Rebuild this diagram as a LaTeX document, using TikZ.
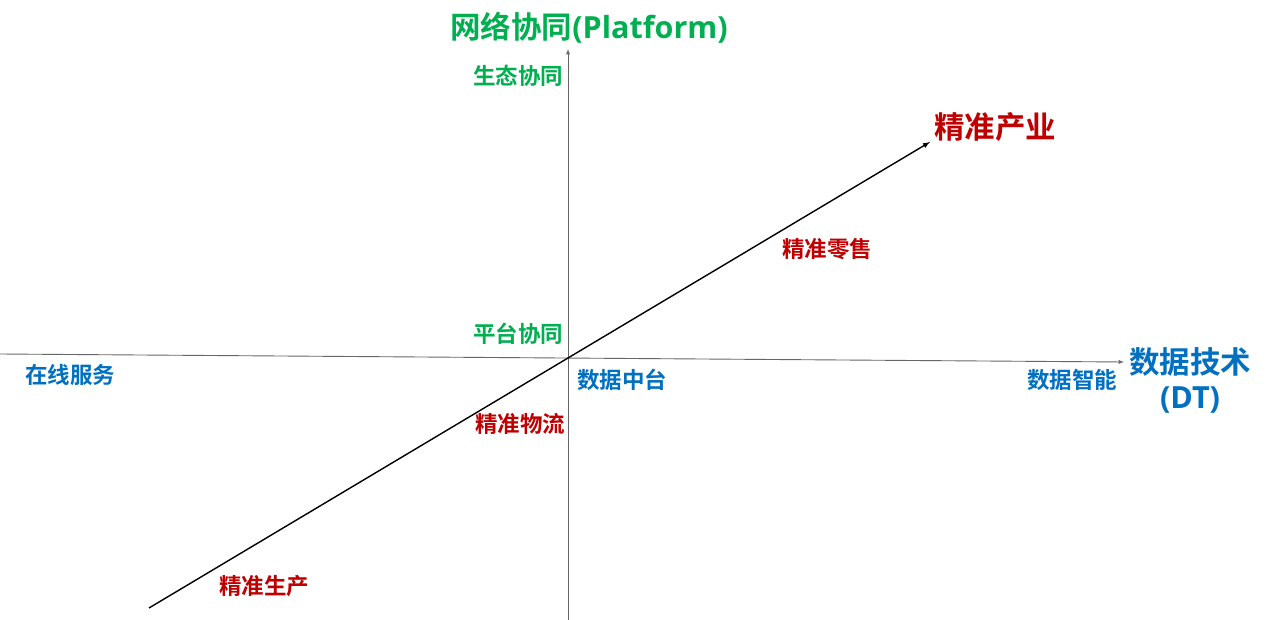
\documentclass[tikz,border=0pt]{standalone}
\usepackage{fontspec}
\setmainfont{Noto Sans CJK SC Bold}
\newfontfamily\cjk{Noto Sans CJK SC Bold}
\newfontfamily\latin{Open Sans}[BoldFont={* Bold}]
\definecolor{netgreen}{RGB}{0,176,80}
\definecolor{dtblue}{RGB}{0,112,192}
\definecolor{precred}{RGB}{192,0,0}
\tikzset{
  biglbl/.style={font=\cjk\fontsize{30.5}{35}\selectfont,inner sep=0pt},
  smalllbl/.style={font=\cjk\fontsize{22.5}{26}\selectfont,inner sep=0pt},
  axis/.style={gray!80!black,line width=0.9pt,-latex},
}
\begin{document}
\begin{tikzpicture}[x=1pt,y=-1pt]
\useasboundingbox[fill=white] (0,0) rectangle (1269,620);

% axes ends
\coordinate (xl) at (0,354);
\coordinate (xr) at (1124,362);
\coordinate (yb) at (568,620);
\coordinate (yt) at (568,49);
\coordinate (dl) at (149,608);
\coordinate (dr) at (930,142);

\draw[axis] (xl) -- (xr);
\draw[axis] (yb) -- (yt);
\draw[line width=1.4pt,-latex] (dl) -- (dr);

% axis titles
\node[biglbl,netgreen] (plat) at (589,28) {网络协同{\latin\bfseries(Platform)}};
\node[biglbl,dtblue,align=center] (dt) at (1190,380) {数据技术\\{\latin\bfseries(DT)}};
\node[biglbl,precred] (ind) at (995,127) {精准产业};

% green labels
\node[smalllbl,netgreen] (eco) at (518,76) {生态协同};
\node[smalllbl,netgreen] (pf) at (518,334) {平台协同};

% blue labels
\node[smalllbl,dtblue] (online) at (70,375) {在线服务};
\node[smalllbl,dtblue] (mid) at (622,380) {数据中台};
\node[smalllbl,dtblue] (intel) at (1072,380) {数据智能};

% red labels
\node[smalllbl,precred] (retail) at (827,249) {精准零售};
\node[smalllbl,precred] (logi) at (520,424) {精准物流};
\node[smalllbl,precred] (prod) at (264,586) {精准生产};

\end{tikzpicture}
\end{document}
